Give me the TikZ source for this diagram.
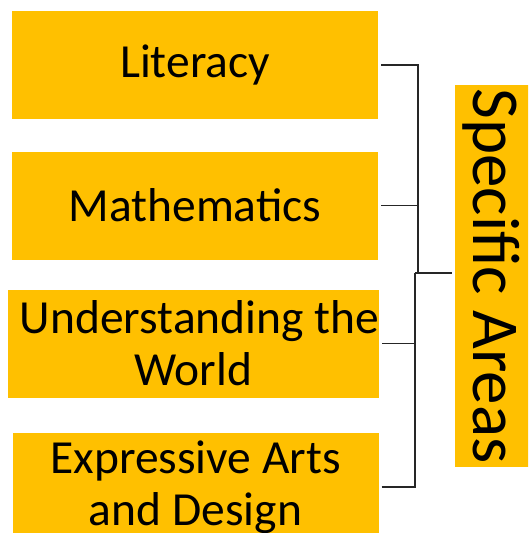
\documentclass[tikz,border=0pt]{standalone}
\usepackage{fontspec}
\setmainfont{Carlito}
\definecolor{gold}{HTML}{FFC000}
\definecolor{wire}{HTML}{262626}
\begin{document}
\begin{tikzpicture}[x=1pt,y=-1pt,
  area/.style={fill=gold, draw=none, inner sep=0pt, minimum width=366pt,
    minimum height=108pt, align=center, font=\fontsize{47.5}{52}\selectfont},
  link/.style={draw=wire, line width=1.6pt}]
\useasboundingbox (0,0) rectangle (528,533);
\clip (0,0) rectangle (528,533);

% the four area boxes
\node[area] (lit)  at (195,65)    {Literacy};
\node[area] (math) at (195,205.5) {Mathematics};
\node[area, minimum width=367pt] (und) at (193.5,343.5) {\hspace*{12pt}Understanding the\\World};
\node[area] (expr) at (195.5,487) {Expressive Arts\\and Design};

% heading box with vertical title
\node[fill=gold, inner sep=0pt, minimum width=80pt, minimum height=382pt] (spec) at (495,276) {};
\node[rotate=-90, anchor=base, inner sep=0pt, font=\fontsize{67}{70}\selectfont] (spectxt) at (473,276) {Specific Areas};

% bracket joints
\coordinate (j1) at (418,273);
\coordinate (j2) at (415,273);

% upper bracket
\draw[link] ([xshift=3pt]lit.east) -| (j1);
\draw[link] ([xshift=3pt]math.east) -- (math.east -| j1);
% lower bracket
\draw[link] ([xshift=3pt]expr.east) -| (j2);
\draw[link] ([xshift=3pt]und.east) -- (und.east -| j2);
% stem to heading
\draw[link, shorten >=3pt] (j2) -- (spec.west |- j2);
\end{tikzpicture}
\end{document}
